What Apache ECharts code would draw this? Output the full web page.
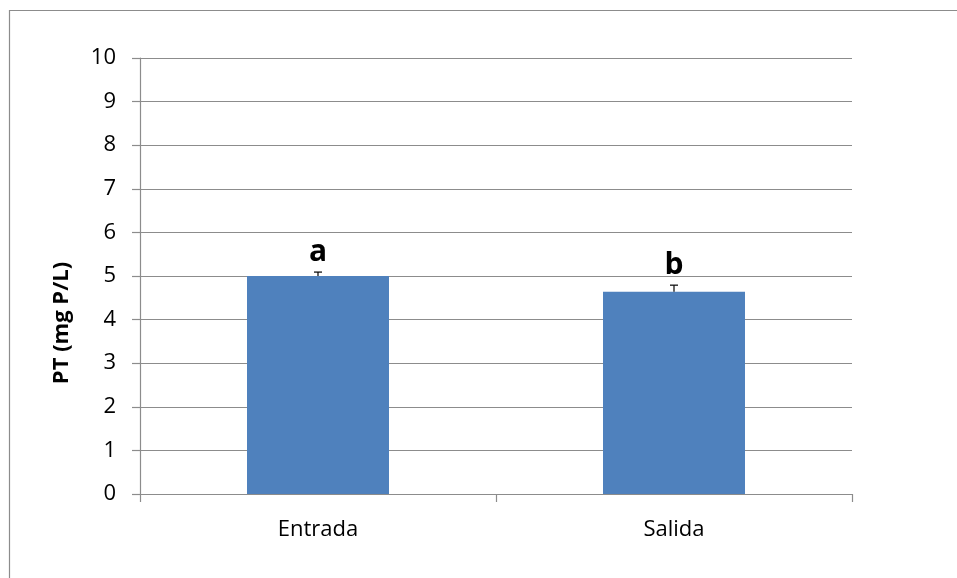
<!DOCTYPE html>
<html>
<head>
<meta charset="utf-8">
<style>
  html, body { margin: 0; padding: 0; background: #fff; }
  #chart { width: 957px; height: 578px; }
</style>
<script src="https://cdn.jsdelivr.net/npm/echarts@6/dist/echarts.min.js"></script>
</head>
<body>
<div id="chart"></div>
<script>
// Total phosphorus at inlet and outlet
const categories = ['Entrada', 'Salida'];
const means = [5.0, 4.64];
const errors = [0.09, 0.15];
const letters = ['a', 'b'];
const yTicks = [0, 1, 2, 3, 4, 5, 6, 7, 8, 9, 10];

const FONT = "'Open Sans', 'Noto Sans', sans-serif";
const GRID_COLOR = '#8c8c8c';

const chart = echarts.init(document.getElementById('chart'), null, { renderer: 'canvas' });

chart.setOption({
  animation: false,
  backgroundColor: '#ffffff',
  graphic: [
    {
      type: 'rect',
      shape: { x: 9.5, y: 10.5, width: 1000, height: 1000 },
      style: { fill: 'none', stroke: GRID_COLOR, lineWidth: 1.2 },
      silent: true
    },
    {
      type: 'text',
      x: 62,
      y: 323,
      rotation: Math.PI / 2,
      style: {
        text: 'PT (mg P/L)',
        font: "bold 22px " + FONT,
        fill: '#000',
        align: 'center',
        verticalAlign: 'middle'
      }
    }
  ],
  grid: { left: 140, right: 105, top: 58, bottom: 84 },
  xAxis: {
    type: 'category',
    data: categories,
    boundaryGap: true,
    axisLine: { lineStyle: { color: GRID_COLOR, width: 1.2 } },
    axisTick: { show: true, length: 8, alignWithLabel: false, lineStyle: { color: GRID_COLOR, width: 1.2 } },
    axisLabel: { color: '#000', fontFamily: FONT, fontSize: 22, margin: 25 }
  },
  yAxis: {
    type: 'value',
    min: yTicks[0],
    max: yTicks[yTicks.length - 1],
    interval: 1,
    axisLine: { show: true, lineStyle: { color: GRID_COLOR, width: 1.2 } },
    axisTick: { show: true, length: 8, lineStyle: { color: GRID_COLOR, width: 1.2 } },
    axisLabel: { color: '#000', fontFamily: FONT, fontSize: 22, margin: 24 },
    splitLine: { show: true, lineStyle: { color: GRID_COLOR, width: 1.2 } }
  },
  series: [
    {
      type: 'bar',
      data: means,
      barWidth: 142,
      itemStyle: { color: '#4F81BD' },
      z: 2
    },
    {
      type: 'custom',
      z: 3,
      data: means.map((m, i) => [i, m, errors[i], letters[i]]),
      renderItem: function (params, api) {
        const x = api.coord([api.value(0), 0])[0];
        const base = api.coord([api.value(0), api.value(1)])[1];
        const top = api.coord([api.value(0), api.value(1) + api.value(2)])[1];
        const half = 4;
        return {
          type: 'group',
          children: [
            { type: 'line', shape: { x1: x, y1: base, x2: x, y2: top }, style: { stroke: '#000', lineWidth: 1.2 } },
            { type: 'line', shape: { x1: x - half, y1: top, x2: x + half, y2: top }, style: { stroke: '#000', lineWidth: 1.2 } },
            {
              type: 'text',
              x: x,
              y: top - 5,
              style: {
                text: letters[params.dataIndex],
                font: "bold 30px " + FONT,
                fill: '#000',
                align: 'center',
                verticalAlign: 'bottom'
              }
            }
          ]
        };
      }
    }
  ]
});
</script>
</body>
</html>
